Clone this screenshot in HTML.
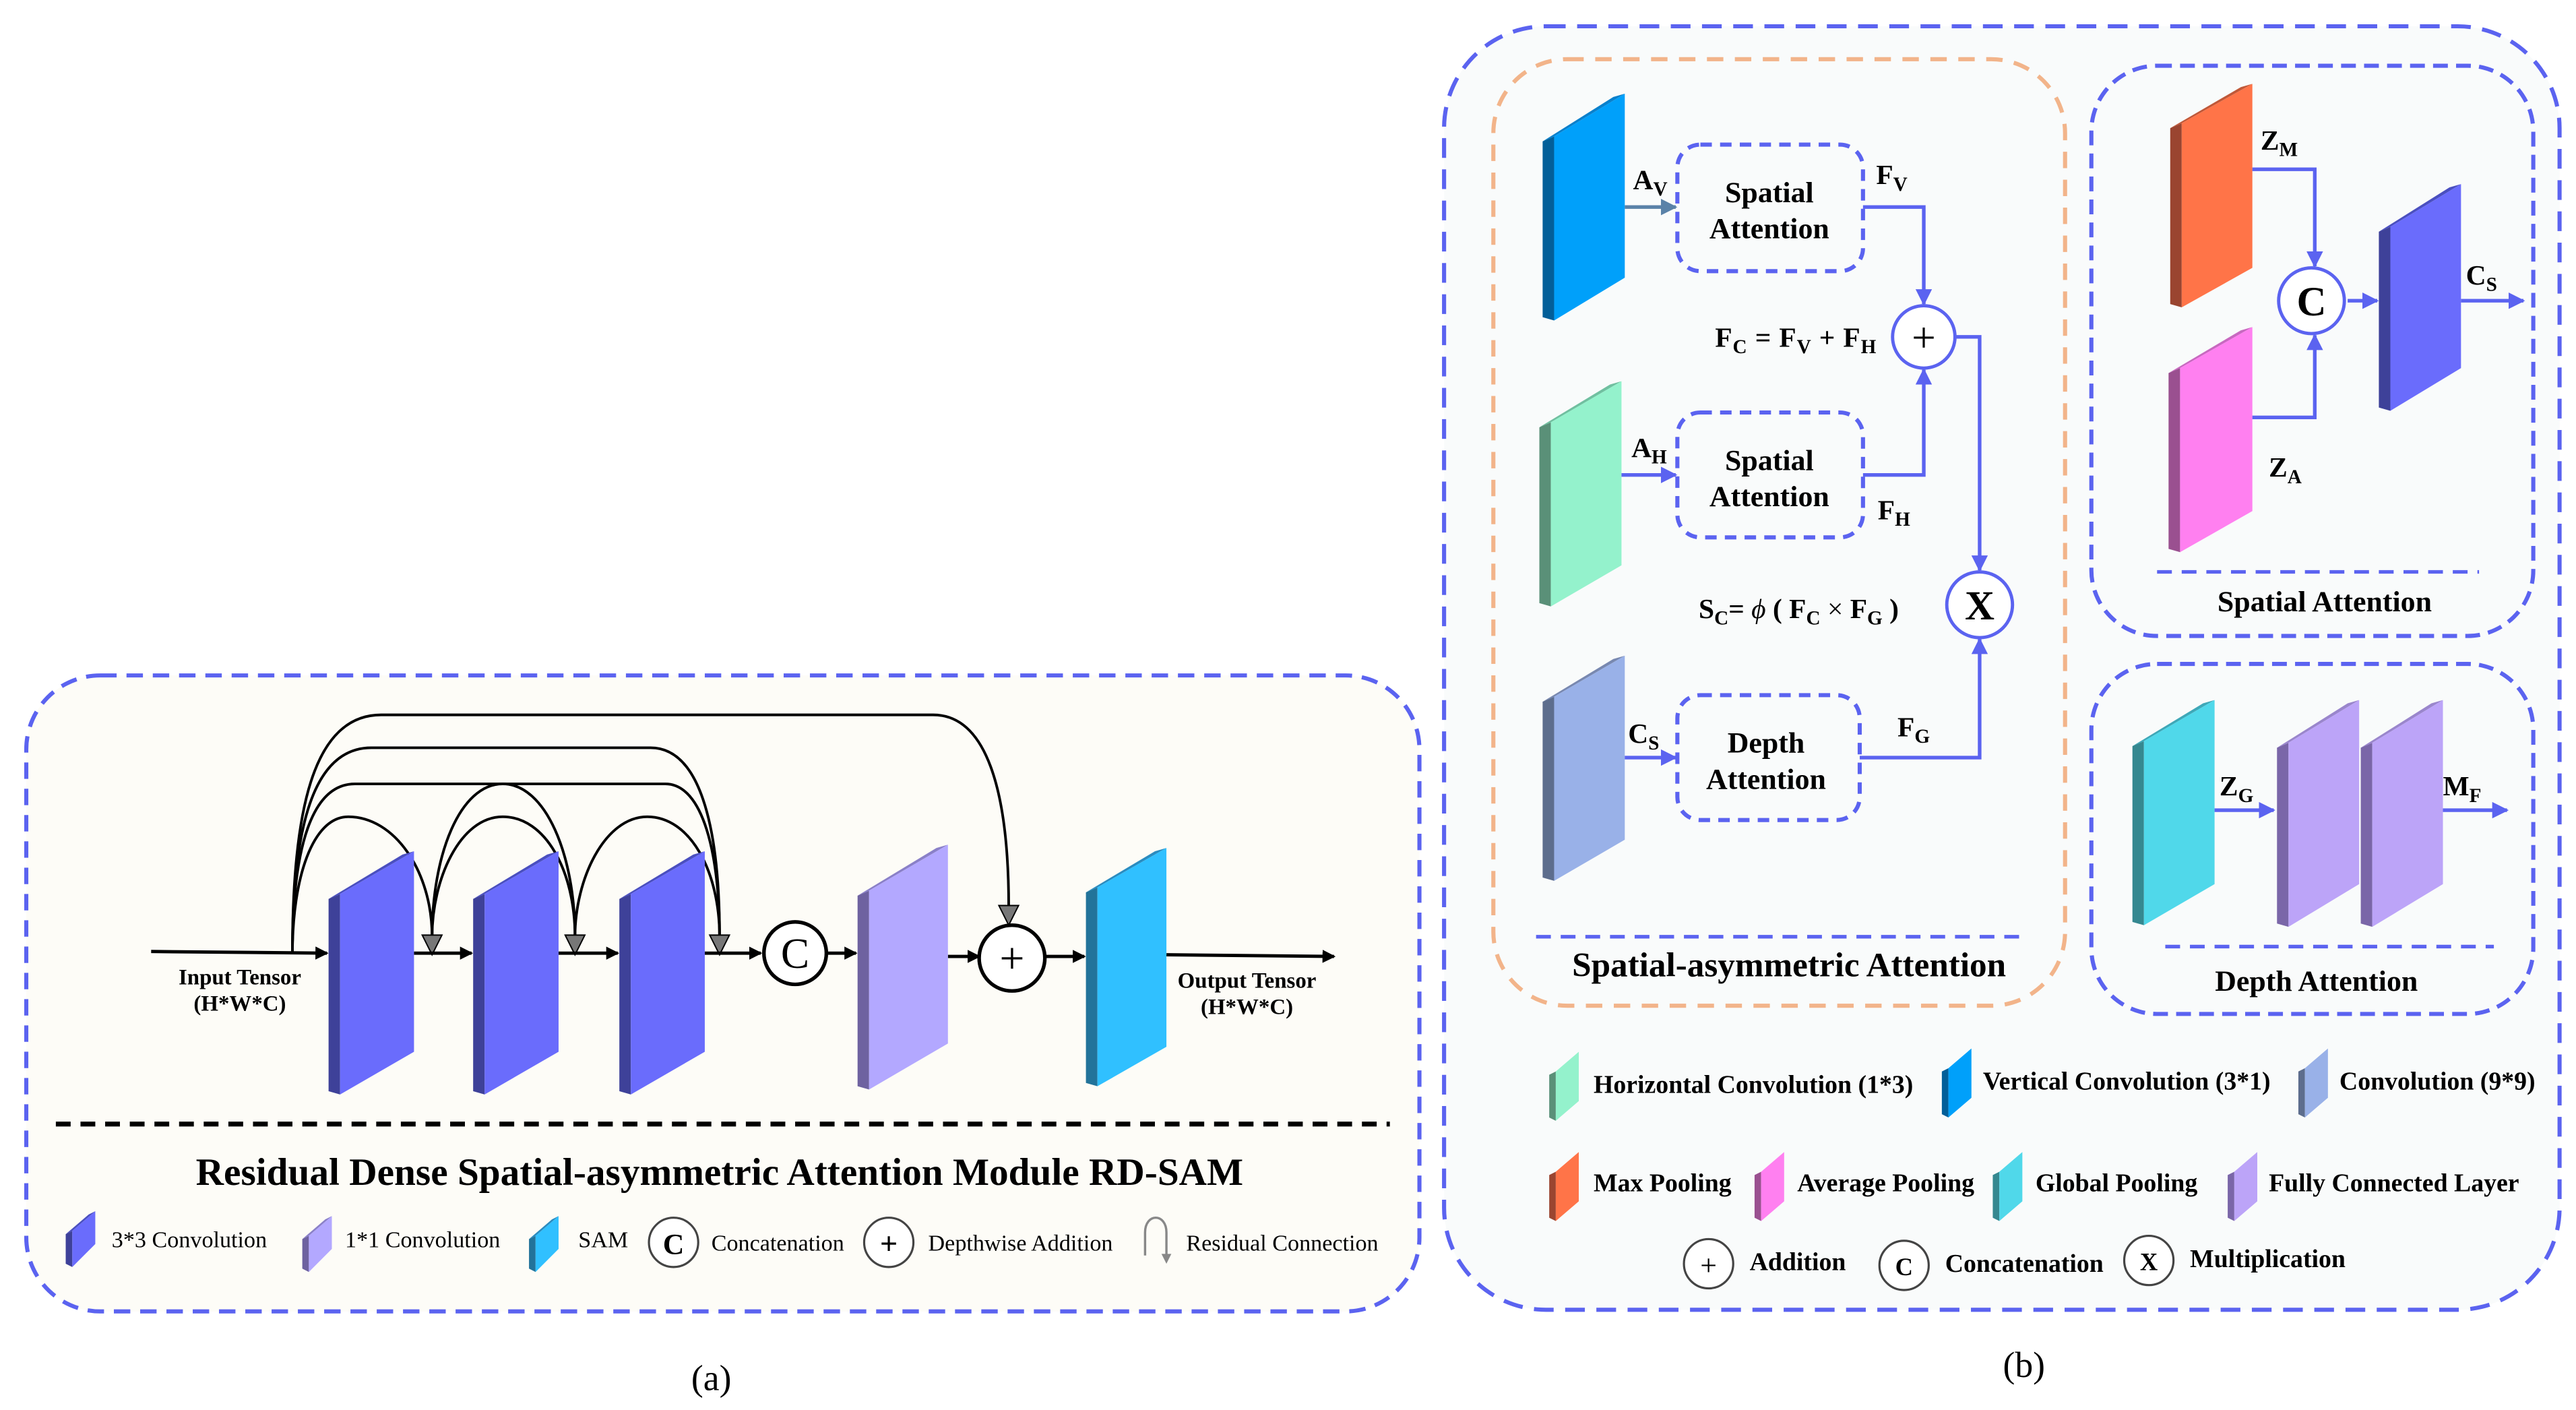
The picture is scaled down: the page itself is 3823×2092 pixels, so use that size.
<!DOCTYPE html>
<html><head><meta charset="utf-8"><style>
html,body{margin:0;padding:0;background:#fff;}
svg{display:block;}
text{font-family:"Liberation Serif",serif;fill:#000;}
.b{font-weight:bold;}
</style></head><body>
<svg width="3823" height="2092" viewBox="0 0 1568 858" preserveAspectRatio="none" xmlns="http://www.w3.org/2000/svg">
<defs>
<marker id="ak" markerWidth="8" markerHeight="8" refX="7" refY="4" orient="auto" markerUnits="userSpaceOnUse"><path d="M0,0 L8,4 L0,8 z" fill="#000"/></marker>
<marker id="ab" markerWidth="10" markerHeight="10" refX="9" refY="5" orient="auto" markerUnits="userSpaceOnUse"><path d="M0,0 L10,5 L0,10 z" fill="#5b63f0"/></marker>
<marker id="as" markerWidth="10" markerHeight="10" refX="9" refY="5" orient="auto" markerUnits="userSpaceOnUse"><path d="M0,0 L10,5 L0,10 z" fill="#5a82a8"/></marker>
</defs>
<rect width="1568" height="858" fill="#fff"/>

<!-- ===== LEFT PANEL (a) ===== -->
<rect x="16" y="411" width="848" height="387" rx="45" fill="#fdfcf7" stroke="#5b63f0" stroke-width="2.5" stroke-dasharray="10,6"/>

<g fill="none" stroke="#000" stroke-width="1.6">
<path d="M178,580 C178,495 190,435 232,435 H568 C600,435 614,480 614,552"/>
<path d="M178,580 C178,505 190,455 226,455 H396 C425,455 438,500 438,570"/>
<path d="M178,580 C178,515 190,477 216,477 H405 C428,477 438,520 438,570"/>
<path d="M263,570 C263,520 280,477 306,477 C332,477 350,520 350,570"/>
<path d="M178,580 C178,535 190,497 212,497 C240,497 263,530 263,570"/>
<path d="M263,570 C263,535 280,497 306,497 C332,497 350,530 350,570"/>
<path d="M350,570 C350,535 368,497 394,497 C420,497 438,530 438,570"/>
</g>
<g fill="#777" stroke="#000" stroke-width="0.8">
<polygon points="257,569 269,569 263,581"/>
<polygon points="344,569 356,569 350,581"/>
<polygon points="432,569 444,569 438,581"/>
<polygon points="608,551 620,551 614,563"/>
</g>

<g stroke="#000" stroke-width="2" marker-end="url(#ak)">
<line x1="92" y1="579" x2="199" y2="580"/>
<line x1="252" y1="580" x2="287" y2="580"/>
<line x1="340" y1="580" x2="376" y2="580"/>
<line x1="429" y1="580" x2="463" y2="580"/>
<line x1="504" y1="580" x2="521" y2="580"/>
<line x1="577" y1="582" x2="596" y2="582"/>
<line x1="636" y1="582" x2="660" y2="582"/>
<line x1="710" y1="581" x2="812" y2="582"/>
</g>

<polygon points="200,547 207,544 207,666 200,664" fill="#3e4199"/>
<polygon points="200,547 245,520 252,518 207,544" fill="#4a4fc0"/>
<polygon points="207,544 252,518 252,640 207,666" fill="#6a6cfc"/>
<polygon points="288,547 295,544 295,666 288,664" fill="#3e4199"/>
<polygon points="288,547 333,520 340,518 295,544" fill="#4a4fc0"/>
<polygon points="295,544 340,518 340,640 295,666" fill="#6a6cfc"/>
<polygon points="377,547 384,544 384,666 377,664" fill="#3e4199"/>
<polygon points="377,547 422,520 429,518 384,544" fill="#4a4fc0"/>
<polygon points="384,544 429,518 429,640 384,666" fill="#6a6cfc"/>
<polygon points="522,545 529,542 529,663 522,661" fill="#6e62a0"/>
<polygon points="522,545 570,516 577,514 529,542" fill="#8a80c8"/>
<polygon points="529,542 577,514 577,635 529,663" fill="#b3a8ff"/>
<polygon points="661,543 668,540 668,661 661,659" fill="#22739a"/>
<polygon points="661,543 703,518 710,516 668,540" fill="#2a8cc0"/>
<polygon points="668,540 710,516 710,637 668,661" fill="#30c0ff"/>

<circle cx="484" cy="580" r="19" fill="#fff" stroke="#000" stroke-width="2.2"/>
<text x="484" y="589" font-size="26" text-anchor="middle">C</text>
<circle cx="616" cy="583" r="20" fill="#fff" stroke="#000" stroke-width="2.2"/>
<text x="616" y="592" font-size="27" text-anchor="middle">+</text>

<text class="b" x="146" y="599" font-size="13.5" text-anchor="middle">Input Tensor</text>
<text class="b" x="146" y="615" font-size="13.5" text-anchor="middle">(H*W*C)</text>
<text class="b" x="759" y="601" font-size="13.5" text-anchor="middle">Output Tensor</text>
<text class="b" x="759" y="617" font-size="13.5" text-anchor="middle">(H*W*C)</text>

<line x1="34" y1="684" x2="846" y2="684" stroke="#000" stroke-width="3" stroke-dasharray="9,6"/>
<text class="b" x="438" y="721" font-size="23.5" text-anchor="middle">Residual Dense Spatial-asymmetric Attention Module RD-SAM</text>

<g transform="translate(40,737)"><polygon points="0,14 4,12 4,34 0,32" fill="#3e4199"/><polygon points="4,12 18,0 18,20 4,34" fill="#6a6cfc"/><polygon points="0,14 14,2 18,0 4,12" fill="#4a4fc0"/></g>
<text x="68" y="759" font-size="14">3*3 Convolution</text>
<g transform="translate(184,740)"><polygon points="0,14 4,12 4,34 0,32" fill="#6e62a0"/><polygon points="4,12 18,0 18,20 4,34" fill="#b3a8ff"/><polygon points="0,14 14,2 18,0 4,12" fill="#8a80c8"/></g>
<text x="210" y="759" font-size="14">1*1 Convolution</text>
<g transform="translate(322,740)"><polygon points="0,14 4,12 4,34 0,32" fill="#22739a"/><polygon points="4,12 18,0 18,20 4,34" fill="#30c0ff"/><polygon points="0,14 14,2 18,0 4,12" fill="#2a8cc0"/></g>
<text x="352" y="759" font-size="14">SAM</text>
<circle cx="410" cy="756" r="15" fill="#fff" stroke="#444" stroke-width="1.3"/>
<text class="b" x="410" y="763" font-size="18" text-anchor="middle">C</text>
<text x="433" y="761" font-size="14">Concatenation</text>
<circle cx="541" cy="756" r="15" fill="#fff" stroke="#444" stroke-width="1.3"/>
<text class="b" x="541" y="763" font-size="19" text-anchor="middle">+</text>
<text x="565" y="761" font-size="14">Depthwise Addition</text>
<path d="M697,764 V750 C697,738 710,738 710,750 V766" fill="none" stroke="#888" stroke-width="1.4"/>
<polygon points="707,763 713,763 710,769" fill="#888"/>
<text x="722" y="761" font-size="14">Residual Connection</text>

<text x="433" y="846" font-size="22" text-anchor="middle">(a)</text>
<text x="1232" y="838" font-size="22" text-anchor="middle">(b)</text>

<!-- ===== RIGHT PANEL (b) ===== -->
<rect x="879" y="16" width="679" height="781" rx="62" fill="#f9fbfb" stroke="#5b63f0" stroke-width="2.5" stroke-dasharray="12,7"/>
<rect x="909" y="36" width="348" height="576" rx="45" fill="none" stroke="#f2b48a" stroke-width="2.5" stroke-dasharray="10,7"/>
<rect x="1273" y="40" width="269" height="347" rx="40" fill="none" stroke="#5b63f0" stroke-width="2.5" stroke-dasharray="9,5"/>
<rect x="1273" y="404" width="269" height="213" rx="40" fill="none" stroke="#5b63f0" stroke-width="2.5" stroke-dasharray="9,5"/>

<polygon points="939,86 946,83 946,195 939,193" fill="#035f99"/>
<polygon points="939,86 982,59 989,57 946,83" fill="#0880cc"/>
<polygon points="946,83 989,57 989,169 946,195" fill="#00a0fa"/>
<polygon points="937,260 944,257 944,369 937,367" fill="#5a9078"/>
<polygon points="937,260 980,234 987,232 944,257" fill="#70c0a0"/>
<polygon points="944,257 987,232 987,344 944,369" fill="#94f2cc"/>
<polygon points="939,427 946,424 946,536 939,534" fill="#5d6d8d"/>
<polygon points="939,427 982,401 989,399 946,424" fill="#7888b0"/>
<polygon points="946,424 989,399 989,511 946,536" fill="#99b1e8"/>

<g fill="none" stroke="#5b63f0" stroke-width="2.5" stroke-dasharray="7,5">
<rect x="1021" y="88" width="113" height="77" rx="14"/>
<rect x="1021" y="251" width="113" height="76" rx="14"/>
<rect x="1021" y="423" width="111" height="76" rx="14"/>
</g>
<g font-size="18">
<text class="b" x="1077" y="123" text-anchor="middle">Spatial</text>
<text class="b" x="1077" y="145" text-anchor="middle">Attention</text>
<text class="b" x="1077" y="286" text-anchor="middle">Spatial</text>
<text class="b" x="1077" y="308" text-anchor="middle">Attention</text>
<text class="b" x="1075" y="458" text-anchor="middle">Depth</text>
<text class="b" x="1075" y="480" text-anchor="middle">Attention</text>
</g>

<g fill="none" stroke-width="2.2">
<line x1="989" y1="126" x2="1020" y2="126" stroke="#5a82a8" marker-end="url(#as)"/>
<line x1="987" y1="289" x2="1020" y2="289" stroke="#5b63f0" marker-end="url(#ab)"/>
<line x1="989" y1="461" x2="1020" y2="461" stroke="#5b63f0" marker-end="url(#ab)"/>
<polyline points="1134,126 1171,126 1171,185" stroke="#5b63f0" marker-end="url(#ab)"/>
<polyline points="1134,289 1171,289 1171,225" stroke="#5b63f0" marker-end="url(#ab)"/>
<polyline points="1190,205 1205,205 1205,347" stroke="#5b63f0" marker-end="url(#ab)"/>
<polyline points="1132,461 1205,461 1205,389" stroke="#5b63f0" marker-end="url(#ab)"/>
</g>
<circle cx="1171" cy="205" r="19" fill="#fff" stroke="#5b63f0" stroke-width="2"/>
<text x="1171" y="214" font-size="26" text-anchor="middle">+</text>
<circle cx="1205" cy="368" r="20" fill="#fff" stroke="#5b63f0" stroke-width="2"/>
<text class="b" x="1205" y="377" font-size="25" text-anchor="middle">X</text>

<g font-size="17" font-weight="bold">
<text x="994" y="115">A<tspan font-size="12" dy="4">V</tspan></text>
<text x="1142" y="112">F<tspan font-size="12" dy="4">V</tspan></text>
<text x="993" y="278">A<tspan font-size="12" dy="4">H</tspan></text>
<text x="1143" y="316">F<tspan font-size="12" dy="4">H</tspan></text>
<text x="991" y="452">C<tspan font-size="12" dy="4">S</tspan></text>
<text x="1155" y="448">F<tspan font-size="12" dy="4">G</tspan></text>
<text x="1044" y="211" textLength="98">F<tspan font-size="12" dy="4">C</tspan><tspan dy="-4"> = F</tspan><tspan font-size="12" dy="4">V</tspan><tspan dy="-4"> + F</tspan><tspan font-size="12" dy="4">H</tspan></text>
<text x="1034" y="376">S<tspan font-size="12" dy="4">C</tspan><tspan dy="-4">= </tspan><tspan font-weight="normal" font-style="italic"> ϕ</tspan><tspan> ( F</tspan><tspan font-size="12" dy="4">C</tspan><tspan dy="-4" font-weight="normal"> × </tspan><tspan>F</tspan><tspan font-size="12" dy="4">G</tspan><tspan dy="-4"> )</tspan></text>
</g>

<line x1="935" y1="570" x2="1231" y2="570" stroke="#5b63f0" stroke-width="2.2" stroke-dasharray="9,6"/>
<text class="b" x="1089" y="594" font-size="21" text-anchor="middle">Spatial-asymmetric Attention</text>

<polygon points="1321,78 1328,75 1328,187 1321,185" fill="#9a4530"/>
<polygon points="1321,78 1364,53 1371,51 1328,75" fill="#c05838"/>
<polygon points="1328,75 1371,51 1371,163 1328,187" fill="#ff7448"/>
<polygon points="1320,227 1327,224 1327,336 1320,334" fill="#9a5090"/>
<polygon points="1320,227 1364,201 1371,199 1327,224" fill="#c868c0"/>
<polygon points="1327,224 1371,199 1371,311 1327,336" fill="#ff80f0"/>
<polygon points="1448,141 1455,138 1455,250 1448,248" fill="#3e4199"/>
<polygon points="1448,141 1491,114 1498,112 1455,138" fill="#4a4fc0"/>
<polygon points="1455,138 1498,112 1498,224 1455,250" fill="#6a6cfc"/>
<g fill="none" stroke="#5b63f0" stroke-width="2.2">
<polyline points="1371,103 1409,103 1409,162" marker-end="url(#ab)"/>
<polyline points="1371,254 1409,254 1409,204" marker-end="url(#ab)"/>
<line x1="1429" y1="183" x2="1447" y2="183" marker-end="url(#ab)"/>
<line x1="1498" y1="183" x2="1536" y2="183" marker-end="url(#ab)"/>
</g>
<circle cx="1407" cy="183" r="20" fill="#fff" stroke="#5b63f0" stroke-width="2"/>
<text class="b" x="1407" y="192" font-size="25" text-anchor="middle">C</text>
<g font-size="17" font-weight="bold">
<text x="1376" y="91">Z<tspan font-size="12" dy="4">M</tspan></text>
<text x="1381" y="290">Z<tspan font-size="12" dy="4">A</tspan></text>
<text x="1501" y="173">C<tspan font-size="12" dy="4">S</tspan></text>
<text x="1351" y="484">Z<tspan font-size="12" dy="4">G</tspan></text>
<text x="1487" y="484">M<tspan font-size="12" dy="4">F</tspan></text>
</g>
<line x1="1313" y1="348" x2="1509" y2="348" stroke="#5b63f0" stroke-width="2.2" stroke-dasharray="9,6"/>
<text class="b" x="1415" y="372" font-size="18" text-anchor="middle">Spatial Attention</text>

<polygon points="1298,454 1305,451 1305,563 1298,561" fill="#358890"/>
<polygon points="1298,454 1341,428 1348,426 1305,451" fill="#3ea8b8"/>
<polygon points="1305,451 1348,426 1348,538 1305,563" fill="#50d8ea"/>
<polygon points="1386,455 1393,452 1393,564 1386,562" fill="#7a66a8"/>
<polygon points="1386,455 1429,428 1436,426 1393,452" fill="#9a86cc"/>
<polygon points="1393,452 1436,426 1436,538 1393,564" fill="#bca4f8"/>
<polygon points="1437,455 1444,452 1444,564 1437,562" fill="#7a66a8"/>
<polygon points="1437,455 1480,428 1487,426 1444,452" fill="#9a86cc"/>
<polygon points="1444,452 1487,426 1487,538 1444,564" fill="#bca4f8"/>
<g fill="none" stroke="#5b63f0" stroke-width="2.2">
<line x1="1348" y1="493" x2="1384" y2="493" marker-end="url(#ab)"/>
<line x1="1487" y1="493" x2="1526" y2="493" marker-end="url(#ab)"/>
</g>
<line x1="1318" y1="576" x2="1518" y2="576" stroke="#5b63f0" stroke-width="2.2" stroke-dasharray="9,6"/>
<text class="b" x="1410" y="603" font-size="18" text-anchor="middle">Depth Attention</text>

<g font-size="15.5" font-weight="bold">
<g transform="translate(943,640)"><polygon points="0,14 4,12 4,42 0,40" fill="#5a9078"/><polygon points="4,12 18,0 18,30 4,42" fill="#94f2cc"/></g>
<text class="b" x="970" y="665">Horizontal Convolution (1*3)</text>
<g transform="translate(1182,638)"><polygon points="0,14 4,12 4,42 0,40" fill="#035f99"/><polygon points="4,12 18,0 18,30 4,42" fill="#00a0fa"/></g>
<text class="b" x="1207" y="663">Vertical Convolution (3*1)</text>
<g transform="translate(1399,638)"><polygon points="0,14 4,12 4,42 0,40" fill="#5d6d8d"/><polygon points="4,12 18,0 18,30 4,42" fill="#99b1e8"/></g>
<text class="b" x="1424" y="663">Convolution (9*9)</text>

<g transform="translate(943,701)"><polygon points="0,14 4,12 4,42 0,40" fill="#9a4530"/><polygon points="4,12 18,0 18,30 4,42" fill="#ff7448"/></g>
<text class="b" x="970" y="725">Max Pooling</text>
<g transform="translate(1068,701)"><polygon points="0,14 4,12 4,42 0,40" fill="#9a5090"/><polygon points="4,12 18,0 18,30 4,42" fill="#ff80f0"/></g>
<text class="b" x="1094" y="725">Average Pooling</text>
<g transform="translate(1213,701)"><polygon points="0,14 4,12 4,42 0,40" fill="#358890"/><polygon points="4,12 18,0 18,30 4,42" fill="#50d8ea"/></g>
<text class="b" x="1239" y="725">Global Pooling</text>
<g transform="translate(1356,701)"><polygon points="0,14 4,12 4,42 0,40" fill="#7a66a8"/><polygon points="4,12 18,0 18,30 4,42" fill="#bca4f8"/></g>
<text class="b" x="1381" y="725">Fully Connected Layer</text>

<circle cx="1040" cy="769" r="15" fill="#fff" stroke="#444" stroke-width="1.3"/>
<text x="1040" y="776" font-size="18" text-anchor="middle" font-weight="normal">+</text>
<text class="b" x="1065" y="773">Addition</text>
<circle cx="1159" cy="770" r="15" fill="#fff" stroke="#444" stroke-width="1.3"/>
<text class="b" x="1159" y="776" font-size="15" text-anchor="middle">C</text>
<text class="b" x="1184" y="774">Concatenation</text>
<circle cx="1308" cy="767" r="15" fill="#fff" stroke="#444" stroke-width="1.3"/>
<text class="b" x="1308" y="773" font-size="15" text-anchor="middle">X</text>
<text class="b" x="1333" y="771">Multiplication</text>
</g>
</svg>
</body></html>
